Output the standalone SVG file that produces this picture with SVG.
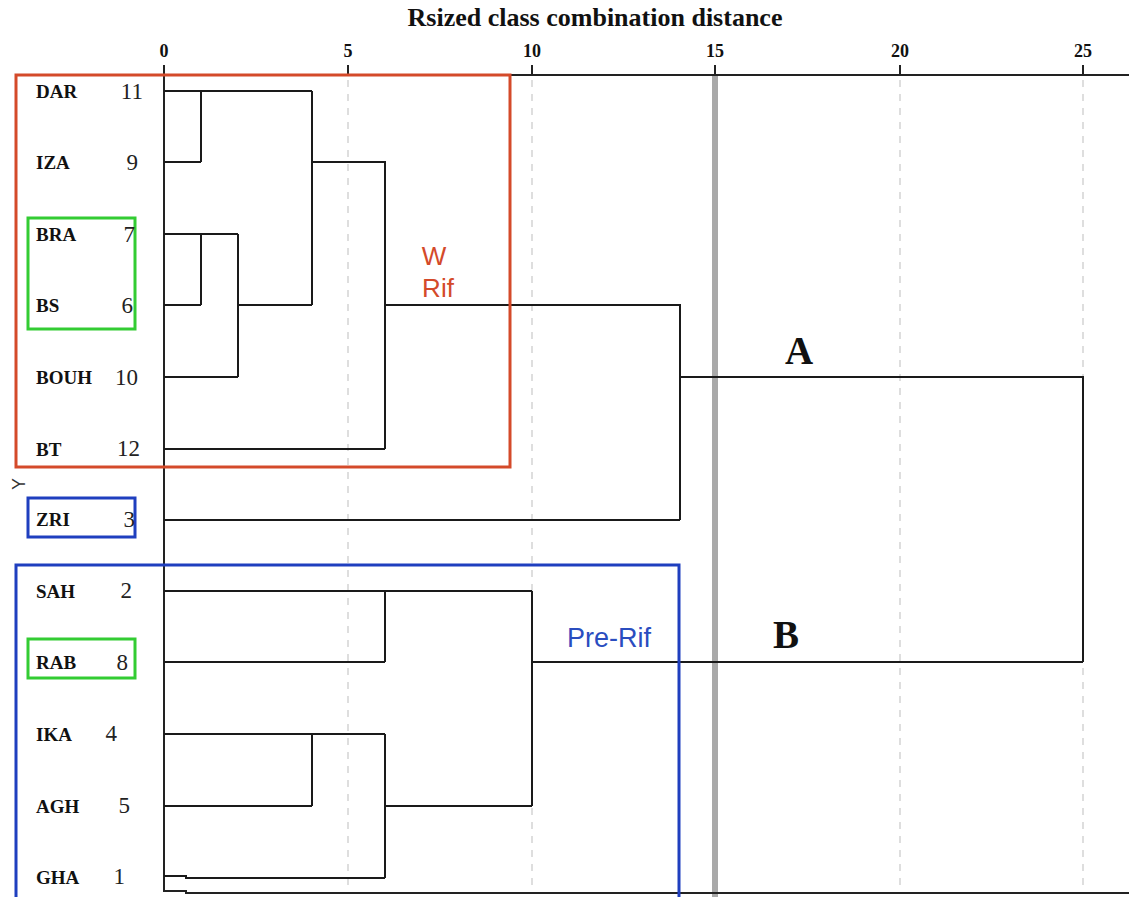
<svg xmlns="http://www.w3.org/2000/svg" width="1129" height="897" viewBox="0 0 1129 897">
<style>
.bg{fill:#ffffff}
.grid{stroke:#c8c8c8;stroke-width:1.2;stroke-dasharray:7,7;fill:none}
.cut{stroke:#9a9a9a;stroke-width:6;fill:none;opacity:0.85}
.axis{stroke:#222;stroke-width:2;fill:none}
.tick{stroke:#222;stroke-width:2}
.tl{font-family:"Liberation Serif",serif;font-weight:bold;font-size:18px;fill:#111;text-anchor:middle}
.title{font-family:"Liberation Serif",serif;font-weight:bold;font-size:26px;fill:#111;text-anchor:middle}
.den{stroke:#1a1a1a;stroke-width:2;fill:none}
.leaf{font-family:"Liberation Serif",serif;font-weight:bold;font-size:19px;fill:#111}
.num{font-family:"Liberation Serif",serif;font-size:23px;fill:#222;text-anchor:end}
.red{stroke:#d44a2a;stroke-width:3;fill:none}
.blue{stroke:#1f3fbf;stroke-width:3;fill:none}
.green{stroke:#33cc33;stroke-width:3;fill:none}
.redt{font-family:"Liberation Sans",sans-serif;font-size:26px;fill:#d44a2a;text-anchor:middle}
.bluet{font-family:"Liberation Sans",sans-serif;font-size:27px;fill:#2a4dbf;text-anchor:middle}
.big{font-family:"Liberation Serif",serif;font-weight:bold;font-size:39px;fill:#111;text-anchor:middle}
</style>
<rect class="bg" x="0" y="0" width="1129" height="897"/>
<g id="axis">
<text class="title" x="595" y="26">Rsized class combination distance</text>
<line class="grid" x1="348" y1="80" x2="348" y2="892"/>
<line class="grid" x1="532" y1="80" x2="532" y2="892"/>
<line class="grid" x1="900" y1="80" x2="900" y2="892"/>
<line class="grid" x1="1083" y1="80" x2="1083" y2="892"/>
<line class="cut" x1="715" y1="76" x2="715" y2="897"/>
<line class="axis" x1="164" y1="75" x2="1129" y2="75"/>
<line class="axis" x1="164" y1="65" x2="164" y2="892"/>
<line class="tick" x1="348" y1="65" x2="348" y2="75"/>
<line class="tick" x1="532" y1="65" x2="532" y2="75"/>
<line class="tick" x1="715" y1="65" x2="715" y2="75"/>
<line class="tick" x1="900" y1="65" x2="900" y2="75"/>
<line class="tick" x1="1083" y1="65" x2="1083" y2="75"/>
<text class="tl" x="164" y="57">0</text>
<text class="tl" x="348" y="57">5</text>
<text class="tl" x="532" y="57">10</text>
<text class="tl" x="715" y="57">15</text>
<text class="tl" x="900" y="57">20</text>
<text class="tl" x="1083" y="57">25</text>
<path class="axis" d="M164,891 H186 V893 H1129"/>
</g>
<g id="connectors">
<path class="den" d="M164,91 H312 M201,91 V162 M164,162 H201"/>
<path class="den" d="M164,234 H238 M201,234 V305 M164,305 H201 M238,234 V377 M164,377 H238"/>
<path class="den" d="M238,305 H312 M312,91 V305"/>
<path class="den" d="M312,162 H385 V449 M164,449 H385"/>
<path class="den" d="M385,305 H680 V520 M164,520 H680"/>
<path class="den" d="M680,377 H1083 V662"/>
<path class="den" d="M164,591 H532 M385,591 V662 M164,662 H385"/>
<path class="den" d="M164,734 H385 M312,734 V806 M164,806 H312 M385,734 V878 M164,876 H186 V878 H385"/>
<path class="den" d="M385,806 H532 M532,591 V806 M532,662 H1083"/>
</g>
<g id="group-wrif">
<rect class="red" x="16" y="75" width="494" height="392"/>
<text class="redt" x="434" y="265">W</text>
<text class="redt" x="438" y="297">Rif</text>
</g>
<g id="group-prerif">
<rect class="blue" x="16" y="565" width="663" height="340"/>
<text class="bluet" x="609" y="647">Pre-Rif</text>
</g>
<g id="box-bra-bs"><rect class="green" x="28" y="218" width="107" height="111"/></g>
<g id="box-zri"><rect class="blue" x="28" y="498" width="107" height="39"/></g>
<g id="box-rab"><rect class="green" x="28" y="639" width="107" height="39"/></g>
<g id="label-A"><text class="big" x="799" y="364">A</text></g>
<g id="label-B"><text class="big" x="786" y="648">B</text></g>
<g id="mark-y"><text x="20" y="484" transform="rotate(-90 20 484)" font-family="Liberation Sans,sans-serif" font-size="18" fill="#333" text-anchor="middle" dominant-baseline="middle">Y</text></g>
<g id="leaf-DAR"><text class="leaf" x="36" y="98">DAR</text><text class="num" x="143" y="99">11</text></g>
<g id="leaf-IZA"><text class="leaf" x="36" y="169">IZA</text><text class="num" x="138" y="170">9</text></g>
<g id="leaf-BRA"><text class="leaf" x="36" y="241">BRA</text><text class="num" x="135" y="242">7</text></g>
<g id="leaf-BS"><text class="leaf" x="36" y="312">BS</text><text class="num" x="133" y="313">6</text></g>
<g id="leaf-BOUH"><text class="leaf" x="36" y="384">BOUH</text><text class="num" x="138" y="385">10</text></g>
<g id="leaf-BT"><text class="leaf" x="36" y="456">BT</text><text class="num" x="140" y="456">12</text></g>
<g id="leaf-ZRI"><text class="leaf" x="36" y="526">ZRI</text><text class="num" x="135" y="527">3</text></g>
<g id="leaf-SAH"><text class="leaf" x="36" y="598">SAH</text><text class="num" x="132" y="598">2</text></g>
<g id="leaf-RAB"><text class="leaf" x="36" y="669">RAB</text><text class="num" x="128" y="670">8</text></g>
<g id="leaf-IKA"><text class="leaf" x="36" y="741">IKA</text><text class="num" x="117" y="741">4</text></g>
<g id="leaf-AGH"><text class="leaf" x="36" y="813">AGH</text><text class="num" x="130" y="813">5</text></g>
<g id="leaf-GHA"><text class="leaf" x="36" y="884">GHA</text><text class="num" x="125" y="884">1</text></g>
</svg>
